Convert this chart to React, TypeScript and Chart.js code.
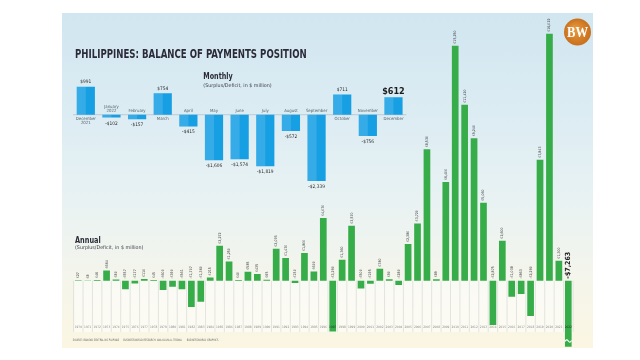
import React, { useEffect, useRef } from "react";
import { Chart, registerables } from "chart.js";
Chart.register(...registerables);

const monthLabels: (string | string[])[] = [
  ["December", "2021"], ["January", "2022"], "February", "March", "April", "May",
  "June", "July", "August", "September", "October", "November", "December",
];
const monthlyValues = [991, -102, -157, 754, -415, -1606, -1574, -1819, -572, -2339, 711, -756, 612];

const years = [
  "1970", "1971", "1972", "1973", "1974", "1975", "1976", "1977", "1978", "1979",
  "1980", "1981", "1982", "1983", "1984", "1985", "1986", "1987", "1988", "1989",
  "1990", "1991", "1992", "1993", "1994", "1995", "1996", "1997", "1998", "1999",
  "2000", "2001", "2002", "2003", "2004", "2005", "2006", "2007", "2008", "2009",
  "2010", "2011", "2012", "2013", "2014", "2015", "2016", "2017", "2018", "2019",
  "2020", "2021", "2022",
];
const annualValues = [
  27, 8, 46, 664, 80, -557, -177, 110, 45, -600,
  -390, -561, -1707, -1360, 215, 2272, 1250, 40, 585, 435,
  65, 2076, 1470, -150, 1800, 600, 4070, -3290, 1360, 3570,
  -500, -195, 780, 90, -280, 2380, 3720, 8530, 89, 6400,
  15250, 11420, 9240, 5060, -2875, 2600, -1038, -863, -2290, 7843,
  16022, 1300, -7263,
];

const TITLE = "PHILIPPINES: BALANCE OF PAYMENTS POSITION";
const NARROW = '"Liberation Sans Narrow", "DejaVu Sans Condensed", "Roboto", sans-serif';

function fmt(v: number) {
  return (v < 0 ? "-$" : "$") + Math.abs(v).toLocaleString("en-US");
}

function fitText(ctx: CanvasRenderingContext2D, text: string, x: number, y: number, w: number, font: string, color: string) {
  ctx.save();
  ctx.font = font;
  ctx.fillStyle = color;
  ctx.textAlign = "left";
  ctx.textBaseline = "alphabetic";
  const m = ctx.measureText(text).width || 1;
  ctx.translate(x, y);
  ctx.scale(w / m, 1);
  ctx.fillText(text, 0, 0);
  ctx.restore();
}

const monthlyPlugin = {
  id: "monthlyDeco",
  beforeDatasetsDraw(chart: any) {
    const ctx = chart.ctx;
    const y0 = chart.scales.y.getPixelForValue(0);
    const area = chart.chartArea;
    ctx.save();
    ctx.strokeStyle = "#b3c3cc";
    ctx.lineWidth = 0.8;
    ctx.beginPath();
    ctx.moveTo(area.left, y0);
    ctx.lineTo(area.right, y0);
    ctx.stroke();
    ctx.restore();
  },
  afterDatasetsDraw(chart: any) {
    const ctx = chart.ctx;
    const meta = chart.getDatasetMeta(0);
    ctx.save();
    ctx.fillStyle = "rgba(255,255,255,0.13)";
    meta.data.forEach((el: any) => {
      const top = Math.min(el.y, el.base);
      const h = Math.abs(el.base - el.y);
      ctx.fillRect(el.x - el.width / 2, top, el.width / 2, h);
    });
    ctx.restore();
  },
  afterDraw(chart: any) {
    const ctx = chart.ctx;
    const meta = chart.getDatasetMeta(0);
    const y0 = chart.scales.y.getPixelForValue(0);
    ctx.save();
    ctx.textAlign = "center";
    ctx.textBaseline = "middle";
    meta.data.forEach((el: any, i: number) => {
      const v = monthlyValues[i];
      const last = i === monthlyValues.length - 1;
      ctx.font = last ? `bold 9px ${NARROW}` : `4.8px ${NARROW}`;
      ctx.fillStyle = last ? "#1c1c1c" : "#2a2a2a";
      const vy = v >= 0 ? el.y - (last ? 5.4 : 4.5) : el.y + 5.7;
      ctx.fillText(fmt(v), el.x, vy);
      const lab = monthLabels[i];
      const lines = Array.isArray(lab) ? lab : [lab];
      ctx.font = `4.3px ${NARROW}`;
      ctx.fillStyle = "#56646c";
      if (v >= 0) {
        lines.forEach((t, k) => ctx.fillText(t, el.x, y0 + 4 + k * 4.6));
      } else {
        const n = lines.length;
        lines.forEach((t, k) => ctx.fillText(t, el.x, y0 - 3.6 - (n - 1 - k) * 4.6));
      }
    });
    ctx.restore();
    // headings
    fitText(ctx, "Monthly", 203.3, 79, 29.4, `bold 9.5px ${NARROW}`, "#2b2b36");
    fitText(ctx, "(Surplus/Deficit, in $ million)", 203.3, 86.5, 68.4, `5px ${NARROW}`, "#3a3a44");
  },
};

const annualPlugin = {
  id: "annualDeco",
  beforeDatasetsDraw(chart: any) {
    const ctx = chart.ctx;
    const xs = chart.scales.x;
    const y0 = chart.scales.y.getPixelForValue(0);
    const area = chart.chartArea;
    const step = (area.right - area.left) / years.length;
    ctx.save();
    ctx.fillStyle = "rgba(255,255,255,0.5)";
    ctx.fillRect(area.left, y0, area.right - area.left, 332 - y0);
    ctx.strokeStyle = "rgba(175,180,180,0.55)";
    ctx.lineWidth = 0.6;
    for (let i = 0; i <= years.length; i++) {
      const x = area.left + i * step;
      ctx.beginPath();
      ctx.moveTo(x, y0);
      ctx.lineTo(x, 332);
      ctx.stroke();
    }
    ctx.restore();
    void xs;
  },
  afterDraw(chart: any) {
    const ctx = chart.ctx;
    const meta = chart.getDatasetMeta(0);
    const y0 = chart.scales.y.getPixelForValue(0);
    ctx.save();
    meta.data.forEach((el: any, i: number) => {
      const v = annualValues[i];
      const last = i === annualValues.length - 1;
      const ay = Math.min(el.y, y0) - 2;
      ctx.save();
      ctx.translate(el.x, ay);
      ctx.rotate(-Math.PI / 2);
      ctx.textAlign = "left";
      ctx.textBaseline = "middle";
      ctx.font = last ? `bold 7px ${NARROW}` : `3.6px ${NARROW}`;
      ctx.fillStyle = last ? "#222" : "#333";
      ctx.fillText(fmt(v), 0, 0);
      ctx.restore();
      // year label
      const covered = el.y > 328 && v < 0;
      ctx.font = `3.2px ${NARROW}`;
      ctx.textAlign = "center";
      ctx.textBaseline = "middle";
      ctx.fillStyle = covered ? "#1d3a22" : "#8a8a8a";
      ctx.fillText(years[i], el.x, 326.8);
      if (last) {
        const w = el.width;
        ctx.strokeStyle = "#ffffff";
        ctx.lineWidth = 1.2;
        ctx.beginPath();
        ctx.moveTo(el.x - w / 2, 341.5);
        ctx.quadraticCurveTo(el.x - w / 4, 338.5, el.x, 341);
        ctx.quadraticCurveTo(el.x + w / 4, 343.5, el.x + w / 2, 340.5);
        ctx.stroke();
      }
    });
    ctx.restore();

    // Title
    fitText(ctx, TITLE, 75, 58, 231.7, `bold 12.5px ${NARROW}`, "#2b2b38");
    // Annual heading
    fitText(ctx, "Annual", 75, 243, 25.7, `bold 9.5px ${NARROW}`, "#2b2b36");
    fitText(ctx, "(Surplus/Deficit, in $ million)", 75, 249, 68.3, `5px ${NARROW}`, "#3a3a44");
    // Footer
    fitText(ctx, "SOURCE: BANGKO SENTRAL NG PILIPINAS", 72.7, 341.3, 46.6, `3.2px ${NARROW}`, "#666");
    fitText(ctx, "BUSINESSWORLD RESEARCH: ANA OLIVIA A. TIRONA", 123.3, 341.3, 58.4, `3.2px ${NARROW}`, "#666");
    fitText(ctx, "BUSINESSWORLD GRAPHICS", 186.7, 341.3, 31.6, `3.2px ${NARROW}`, "#666");

    // BW logo
    ctx.save();
    const cx = 577.5, cy = 32, r = 13.5;
    const g = ctx.createRadialGradient(cx - 3, cy - 3, 2, cx, cy, r);
    g.addColorStop(0, "#e5963a");
    g.addColorStop(1, "#c9701d");
    ctx.fillStyle = g;
    ctx.beginPath();
    ctx.arc(cx, cy, r, 0, Math.PI * 2);
    ctx.fill();
    ctx.restore();
    ctx.save();
    ctx.font = 'bold 14px "Liberation Serif", "DejaVu Serif", serif';
    ctx.fillStyle = "#fff";
    ctx.textBaseline = "middle";
    const m = ctx.measureText("BW").width;
    ctx.translate(cx - 10.5, cy + 1);
    ctx.scale(21 / m, 1);
    ctx.fillText("BW", 0, 0);
    ctx.restore();
  },
};

export default function App() {
  const mRef = useRef<HTMLCanvasElement>(null);
  const aRef = useRef<HTMLCanvasElement>(null);

  useEffect(() => {
    document.body.style.margin = "0";
    const monthly = new Chart(mRef.current as HTMLCanvasElement, {
      type: "bar",
      data: {
        labels: monthLabels as any,
        datasets: [{
          data: monthlyValues,
          backgroundColor: "#179fe4",
          barPercentage: 0.71,
          categoryPercentage: 1,
        }],
      },
      options: {
        animation: false,
        responsive: false,
        events: [],
        layout: { padding: { left: 73, right: 640 - 406.3, top: 70, bottom: 360 - 195 } },
        scales: {
          x: { display: false },
          y: { display: false, min: -2835, max: 1578 },
        },
        plugins: { legend: { display: false }, tooltip: { enabled: false } },
      },
      plugins: [monthlyPlugin],
    } as any);

    const annual = new Chart(aRef.current as HTMLCanvasElement, {
      type: "bar",
      data: {
        labels: years,
        datasets: [{
          data: annualValues,
          backgroundColor: "#36ad49",
          barPercentage: 0.71,
          categoryPercentage: 1,
        }],
      },
      options: {
        animation: false,
        responsive: false,
        events: [],
        layout: { padding: { left: 73.6, right: 640 - 573, top: 25, bottom: 360 - 346.7 } },
        scales: {
          x: { display: false },
          y: { display: false, min: -4283, max: 16595 },
        },
        plugins: { legend: { display: false }, tooltip: { enabled: false } },
      },
      plugins: [annualPlugin],
    } as any);

    return () => {
      monthly.destroy();
      annual.destroy();
    };
  }, []);

  return (
    <div style={{ position: "relative", width: 640, height: 360, background: "#fff", overflow: "hidden" }}>
      <div
        style={{
          position: "absolute", left: 62, top: 13, width: 531, height: 335,
          background: "linear-gradient(180deg, #d1e6f0 0%, #dcecf3 30%, #e8f2f3 55%, #f4f5ec 78%, #fbf6e2 100%)",
        }}
      />
      <canvas ref={aRef} width={640} height={360} style={{ position: "absolute", left: 0, top: 0 }} />
      <canvas ref={mRef} width={640} height={360} style={{ position: "absolute", left: 0, top: 0 }} />
    </div>
  );
}
